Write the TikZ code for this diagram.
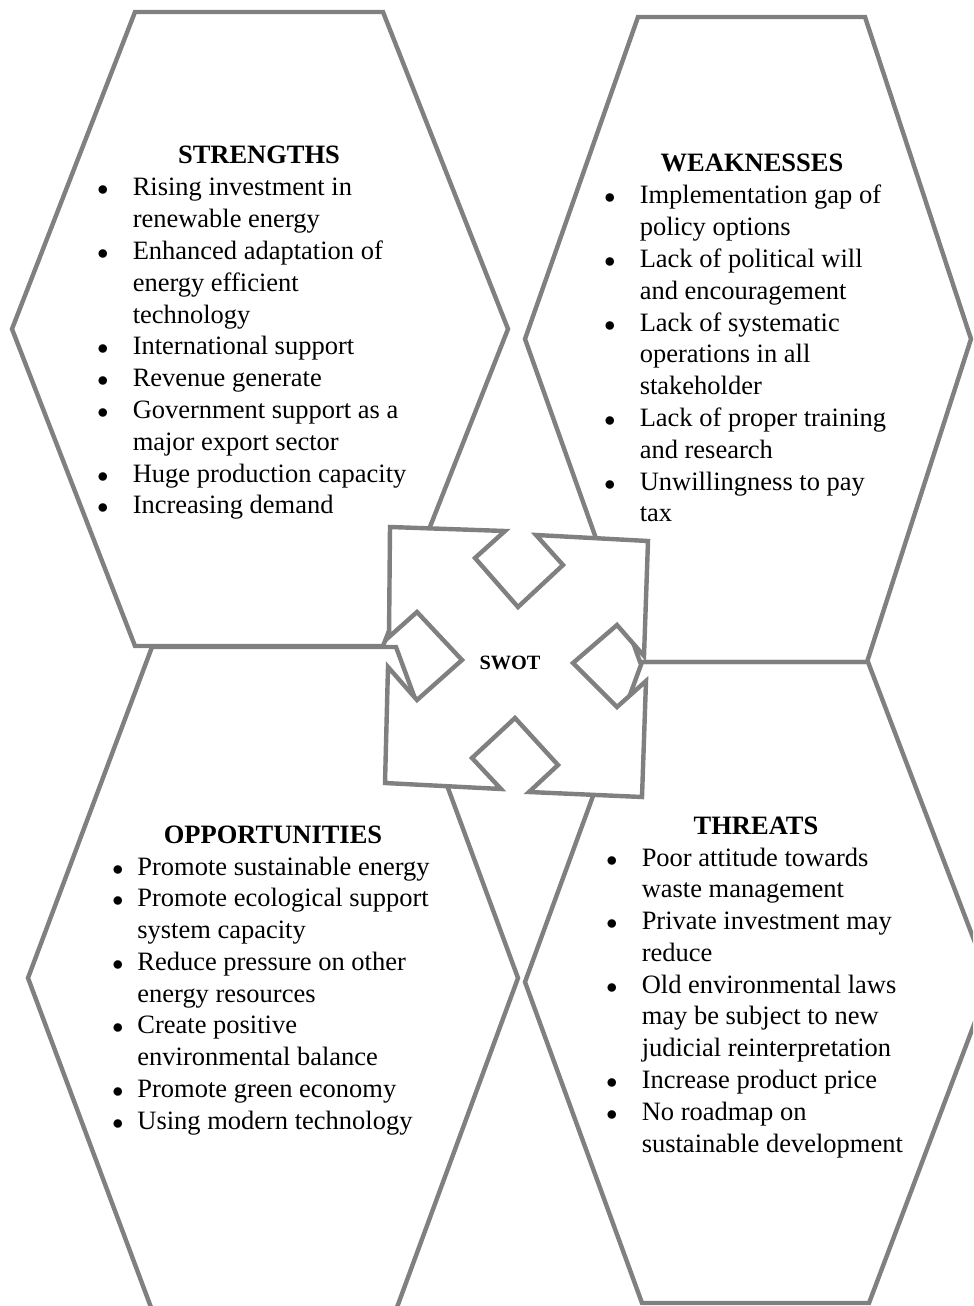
\documentclass[tikz,border=0pt]{standalone}
\usepackage{fontspec}
\setmainfont{Liberation Serif}
\usepackage{tikz}

\newcommand{\bul}{{\fontsize{10pt}{10pt}\selectfont$\bullet$}}

\begin{document}
\begin{tikzpicture}[x=0.453pt, y=-0.453pt,
    hexa/.style={draw=gray, line width=2pt},
    title/.style={anchor=base, inner sep=0pt, font=\fontsize{12pt}{14.4pt}\selectfont\bfseries},
    items/.style={anchor=base west, inner sep=0pt, font=\fontsize{12pt}{14.4pt}\selectfont}]
  \clip (0,0) rectangle (973,1306);
  % four hexagons
  \draw[hexa] (135,12) -- (383,12) -- (508,329) -- (383,646) -- (135,646) -- (12,329) -- cycle;
  \draw[hexa] (638,17) -- (865,17) -- (971,339) -- (867,662) -- (640,662) -- (525,339) -- cycle;
  \draw[hexa] (152,647) -- (396,647) -- (518,978) -- (396,1310) -- (152,1310) -- (28,978) -- cycle;
  \draw[hexa] (642,662) -- (868,662) -- (990,982) -- (869,1303) -- (642,1303) -- (525,982) -- cycle;
  % centre square with the four notches
  \draw[hexa, fill=white] (390,527)
    -- (505,531) -- (475,558) -- (518,607) -- (563,565) -- (536,535)
    -- (648,541)
    -- (644,656) -- (617,625) -- (573,663) -- (617,707) -- (646,681)
    -- (642,797)
    -- (529,792) -- (558,765) -- (515,718) -- (472,758) -- (501,789)
    -- (385,783)
    -- (388,667) -- (417,700) -- (462,660) -- (417,612) -- (389,637)
    -- cycle;
  \node[font=\fontsize{9.2pt}{10pt}\selectfont\bfseries] (swot) at (510,663) {SWOT};
  % strengths
  \node[title] (s-title) at (259,164) {STRENGTHS};
  \node[items] (s-list) at (97,196) {\begin{tabular}[t]{@{}p{16pt}@{}l@{}}
    \bul & Rising investment in\\
         & renewable energy\\
    \bul & Enhanced adaptation of\\
         & energy efficient\\
         & technology\\
    \bul & International support\\
    \bul & Revenue generate\\
    \bul & Government support as a\\
         & major export sector\\
    \bul & Huge production capacity\\
    \bul & Increasing demand
  \end{tabular}};
  % weaknesses
  \node[title] (w-title) at (752,172) {WEAKNESSES};
  \node[items] (w-list) at (604,204) {\begin{tabular}[t]{@{}p{16pt}@{}l@{}}
    \bul & Implementation gap of\\
         & policy options\\
    \bul & Lack of political will\\
         & and encouragement\\
    \bul & Lack of systematic\\
         & operations in all\\
         & stakeholder\\
    \bul & Lack of proper training\\
         & and research\\
    \bul & Unwillingness to pay\\
         & tax
  \end{tabular}};
  % opportunities
  \node[title] (o-title) at (273,843) {OPPORTUNITIES};
  \node[items] (o-list) at (112,875) {\begin{tabular}[t]{@{}p{11.3pt}@{}l@{}}
    \bul & Promote sustainable energy\\
    \bul & Promote ecological support\\
         & system capacity\\
    \bul & Reduce pressure on other\\
         & energy resources\\
    \bul & Create positive\\
         & environmental balance\\
    \bul & Promote green economy\\
    \bul & Using modern technology
  \end{tabular}};
  % threats
  \node[title] (t-title) at (756,834) {THREATS};
  \node[items] (t-list) at (606,866) {\begin{tabular}[t]{@{}p{16pt}@{}l@{}}
    \bul & Poor attitude towards\\
         & waste management\\
    \bul & Private investment may\\
         & reduce\\
    \bul & Old environmental laws\\
         & may be subject to new\\
         & judicial reinterpretation\\
    \bul & Increase product price\\
    \bul & No roadmap on\\
         & sustainable development
  \end{tabular}};
\end{tikzpicture}
\end{document}
